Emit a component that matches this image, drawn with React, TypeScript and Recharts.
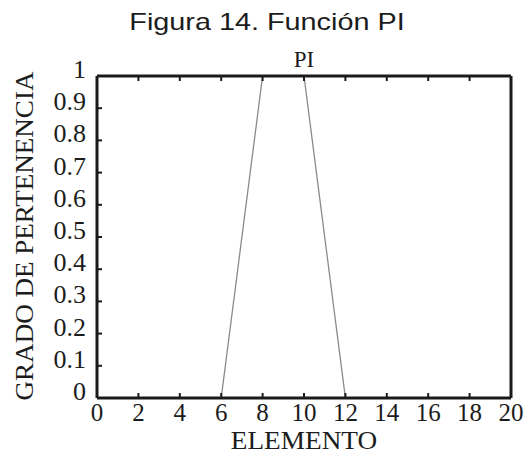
import { LineChart, Line, XAxis, YAxis } from 'recharts';

const xs = [0, 6, 8, 10, 12, 20];
const ys = [0, 0, 1, 1, 0, 0];
const xTicks = [0, 2, 4, 6, 8, 10, 12, 14, 16, 18, 20];
const yTicks = [0, 0.1, 0.2, 0.3, 0.4, 0.5, 0.6, 0.7, 0.8, 0.9, 1];

const data = xs.map((x, i) => ({ x, y: ys[i] }));

const serif = '"Liberation Serif", "Times New Roman", serif';
const ink = '#1c1c1c';
const frame = '#1a1a1a';

const BottomTick = (p: any) => (
  <g>
    <line x1={p.x} x2={p.x} y1={p.y} y2={p.y - 5} stroke={frame} strokeWidth={2} />
    <text x={p.x} y={p.y + 23} textAnchor="middle" fontFamily={serif} fontSize={25} fill={ink}>
      {p.payload.value}
    </text>
  </g>
);

const LeftTick = (p: any) => (
  <g>
    <line x1={p.x} x2={p.x + 5} y1={p.y} y2={p.y} stroke={frame} strokeWidth={2} />
    <text x={p.x - 11} y={p.y + 2} textAnchor="end" fontFamily={serif} fontSize={26} fill={ink}>
      {p.payload.value}
    </text>
  </g>
);

const TopTick = (p: any) => (
  <line x1={p.x} x2={p.x} y1={p.y} y2={p.y + 5} stroke={frame} strokeWidth={2} />
);

const RightTick = (p: any) => (
  <line x1={p.x} x2={p.x - 5} y1={p.y} y2={p.y} stroke={frame} strokeWidth={2} />
);

export default function App() {
  const axisLine = { stroke: frame, strokeWidth: 3 };
  return (
    <div style={{ position: 'absolute', left: 0, top: 0, width: 526, height: 453, background: '#fff' }}>
      <div style={{ position: 'absolute', left: 0, top: 8, width: 534, textAlign: 'center', fontFamily: '"Liberation Sans", Arial, sans-serif', fontSize: 24, color: ink, transform: 'scaleX(1.2)' }}>
        Figura 14. Función PI
      </div>
      <div style={{ position: 'absolute', left: 97, top: 47, width: 414, textAlign: 'center', fontFamily: serif, fontSize: 23, color: ink, lineHeight: '26px' }}>
        PI
      </div>
      <div style={{ position: 'absolute', left: 97, top: 432, width: 414, textAlign: 'center', fontFamily: serif, fontSize: 25, color: ink, lineHeight: '18px', transform: 'scaleX(1.09)' }}>
        ELEMENTO
      </div>
      <div style={{ position: 'absolute', left: 25, top: 237, width: 0, height: 0 }}>
        <div style={{ position: 'absolute', left: -200, top: -15, width: 400, textAlign: 'center', transform: 'rotate(-90deg) scaleX(1.04)', fontFamily: serif, fontSize: 26, color: ink, lineHeight: '28px', whiteSpace: 'nowrap' }}>
          GRADO DE PERTENENCIA
        </div>
      </div>
      <LineChart width={526} height={453} data={data} margin={{ top: 75, right: 14, bottom: 54, left: 96 }} style={{ position: 'absolute', left: 0, top: 0 }}>
        <XAxis xAxisId="b" dataKey="x" type="number" domain={[0, 20]} ticks={xTicks} height={1} tickSize={0} tickMargin={0} tickLine={false} axisLine={axisLine} tick={<BottomTick />} interval={0} />
        <XAxis xAxisId="t" orientation="top" dataKey="x" type="number" domain={[0, 20]} ticks={xTicks} height={1} tickSize={0} tickMargin={0} tickLine={false} axisLine={axisLine} tick={<TopTick />} interval={0} />
        <YAxis yAxisId="l" type="number" domain={[0, 1]} ticks={yTicks} width={1} tickSize={0} tickMargin={0} tickLine={false} axisLine={axisLine} tick={<LeftTick />} interval={0} />
        <YAxis yAxisId="r" orientation="right" type="number" domain={[0, 1]} ticks={yTicks} width={1} tickSize={0} tickMargin={0} tickLine={false} axisLine={axisLine} tick={<RightTick />} interval={0} />
        <Line xAxisId="b" yAxisId="l" dataKey="y" type="linear" stroke="#8a8a8a" strokeWidth={1.3} dot={false} isAnimationActive={false} />
      </LineChart>
    </div>
  );
}
